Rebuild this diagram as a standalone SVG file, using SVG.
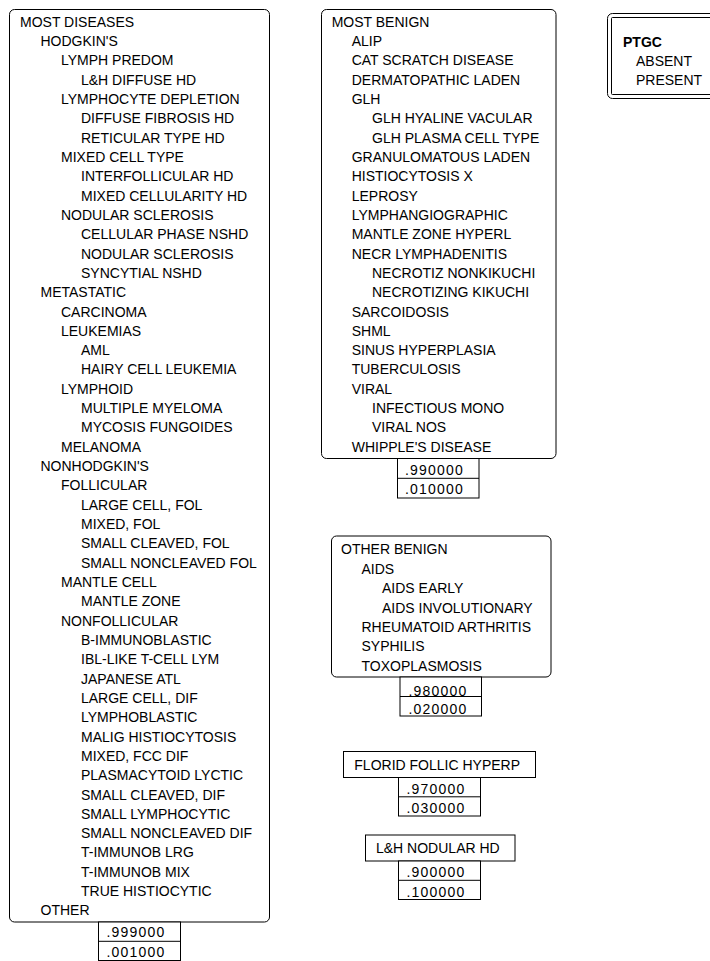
<svg xmlns="http://www.w3.org/2000/svg" width="710" height="961" viewBox="0 0 710 961">
<style>
text{font-family:"Liberation Sans",Arial,sans-serif;font-size:14px;fill:#000}
.v{letter-spacing:1.2px}
.b{font-weight:bold}
.box{fill:#fff;stroke:#000;stroke-width:1}
.ln{stroke:#000;stroke-width:1;fill:none}
</style>
<rect width="710" height="961" fill="#fff"/>
<g id="connectors"/>
<g id="node-most-diseases">
<rect class="box" x="9.5" y="9.5" width="260" height="912.5" rx="5"/>
<text x="20" y="26.7">MOST DISEASES</text>
<text x="40.5" y="46.02">HODGKIN'S</text>
<text x="61" y="65.34">LYMPH PREDOM</text>
<text x="81" y="84.66">L&amp;H DIFFUSE HD</text>
<text x="61" y="103.98">LYMPHOCYTE DEPLETION</text>
<text x="81" y="123.3">DIFFUSE FIBROSIS HD</text>
<text x="81" y="142.62">RETICULAR TYPE HD</text>
<text x="61" y="161.94">MIXED CELL TYPE</text>
<text x="81" y="181.26">INTERFOLLICULAR HD</text>
<text x="81" y="200.58">MIXED CELLULARITY HD</text>
<text x="61" y="219.9">NODULAR SCLEROSIS</text>
<text x="81" y="239.22">CELLULAR PHASE NSHD</text>
<text x="81" y="258.54">NODULAR SCLEROSIS</text>
<text x="81" y="277.86">SYNCYTIAL NSHD</text>
<text x="40.5" y="297.18">METASTATIC</text>
<text x="61" y="316.5">CARCINOMA</text>
<text x="61" y="335.82">LEUKEMIAS</text>
<text x="81" y="355.14">AML</text>
<text x="81" y="374.46">HAIRY CELL LEUKEMIA</text>
<text x="61" y="393.78">LYMPHOID</text>
<text x="81" y="413.1">MULTIPLE MYELOMA</text>
<text x="81" y="432.42">MYCOSIS FUNGOIDES</text>
<text x="61" y="451.74">MELANOMA</text>
<text x="40.5" y="471.06">NONHODGKIN'S</text>
<text x="61" y="490.38">FOLLICULAR</text>
<text x="81" y="509.7">LARGE CELL, FOL</text>
<text x="81" y="529.02">MIXED, FOL</text>
<text x="81" y="548.34">SMALL CLEAVED, FOL</text>
<text x="81" y="567.66">SMALL NONCLEAVED FOL</text>
<text x="61" y="586.98">MANTLE CELL</text>
<text x="81" y="606.3">MANTLE ZONE</text>
<text x="61" y="625.62">NONFOLLICULAR</text>
<text x="81" y="644.94">B-IMMUNOBLASTIC</text>
<text x="81" y="664.26">IBL-LIKE T-CELL LYM</text>
<text x="81" y="683.58">JAPANESE ATL</text>
<text x="81" y="702.9">LARGE CELL, DIF</text>
<text x="81" y="722.22">LYMPHOBLASTIC</text>
<text x="81" y="741.54">MALIG HISTIOCYTOSIS</text>
<text x="81" y="760.86">MIXED, FCC DIF</text>
<text x="81" y="780.18">PLASMACYTOID LYCTIC</text>
<text x="81" y="799.5">SMALL CLEAVED, DIF</text>
<text x="81" y="818.82">SMALL LYMPHOCYTIC</text>
<text x="81" y="838.14">SMALL NONCLEAVED DIF</text>
<text x="81" y="857.46">T-IMMUNOB LRG</text>
<text x="81" y="876.78">T-IMMUNOB MIX</text>
<text x="81" y="896.1">TRUE HISTIOCYTIC</text>
<text x="40.5" y="915.42">OTHER</text>
<rect class="box" x="98.5" y="922" width="82" height="38.5"/>
<line class="ln" x1="98.5" y1="941.3" x2="180.5" y2="941.3"/>
<text class="v" x="106.5" y="937.3">.999000</text>
<text class="v" x="106.5" y="956.5">.001000</text>
</g>
<g id="node-most-benign">
<rect class="box" x="321.5" y="9.5" width="234.5" height="449" rx="5"/>
<text x="331.7" y="26.7">MOST BENIGN</text>
<text x="351.7" y="46.02">ALIP</text>
<text x="351.7" y="65.34">CAT SCRATCH DISEASE</text>
<text x="351.7" y="84.66">DERMATOPATHIC LADEN</text>
<text x="351.7" y="103.98">GLH</text>
<text x="372" y="123.3">GLH HYALINE VACULAR</text>
<text x="372" y="142.62">GLH PLASMA CELL TYPE</text>
<text x="351.7" y="161.94">GRANULOMATOUS LADEN</text>
<text x="351.7" y="181.26">HISTIOCYTOSIS X</text>
<text x="351.7" y="200.58">LEPROSY</text>
<text x="351.7" y="219.9">LYMPHANGIOGRAPHIC</text>
<text x="351.7" y="239.22">MANTLE ZONE HYPERL</text>
<text x="351.7" y="258.54">NECR LYMPHADENITIS</text>
<text x="372" y="277.86">NECROTIZ NONKIKUCHI</text>
<text x="372" y="297.18">NECROTIZING KIKUCHI</text>
<text x="351.7" y="316.5">SARCOIDOSIS</text>
<text x="351.7" y="335.82">SHML</text>
<text x="351.7" y="355.14">SINUS HYPERPLASIA</text>
<text x="351.7" y="374.46">TUBERCULOSIS</text>
<text x="351.7" y="393.78">VIRAL</text>
<text x="372" y="413.1">INFECTIOUS MONO</text>
<text x="372" y="432.42">VIRAL NOS</text>
<text x="351.7" y="451.74">WHIPPLE'S DISEASE</text>
<rect class="box" x="397.5" y="458.5" width="81.5" height="39.5"/>
<line class="ln" x1="397.5" y1="478.3" x2="479" y2="478.3"/>
<text class="v" x="405" y="474.5">.990000</text>
<text class="v" x="405" y="493.8">.010000</text>
</g>
<g id="node-other-benign">
<rect class="box" x="331.5" y="536" width="219.5" height="141" rx="5"/>
<text x="341" y="554.3">OTHER BENIGN</text>
<text x="361.5" y="573.7">AIDS</text>
<text x="382" y="593.1">AIDS EARLY</text>
<text x="382" y="612.5">AIDS INVOLUTIONARY</text>
<text x="361.5" y="631.9">RHEUMATOID ARTHRITIS</text>
<text x="361.5" y="651.3">SYPHILIS</text>
<text x="361.5" y="670.7">TOXOPLASMOSIS</text>
<rect class="box" x="400" y="677" width="81.5" height="39"/>
<line class="ln" x1="400" y1="696.5" x2="481.5" y2="696.5"/>
<text class="v" x="408.5" y="695.5">.980000</text>
<text class="v" x="408.5" y="714.3">.020000</text>
</g>
<g id="node-florid">
<rect class="box" x="343.5" y="751.5" width="192" height="26"/>
<text x="354.3" y="770">FLORID FOLLIC HYPERP</text>
<rect class="box" x="398.5" y="777.5" width="82" height="38.5"/>
<line class="ln" x1="398.5" y1="796.8" x2="480.5" y2="796.8"/>
<text class="v" x="406.5" y="794.3">.970000</text>
<text class="v" x="406.5" y="813.3">.030000</text>
</g>
<g id="node-lh-nodular">
<rect class="box" x="365.5" y="835" width="149.5" height="26"/>
<text x="376" y="853.3">L&amp;H NODULAR HD</text>
<rect class="box" x="398.5" y="861" width="82" height="38.5"/>
<line class="ln" x1="398.5" y1="880.3" x2="480.5" y2="880.3"/>
<text class="v" x="406.5" y="877.3">.900000</text>
<text class="v" x="406.5" y="896.7">.100000</text>
</g>
<g id="node-ptgc">
<rect class="box" x="607.5" y="13.5" width="130" height="85" rx="5"/>
<rect class="box" x="611.5" y="17.5" width="122" height="77" rx="1"/>
<text class="b" x="623" y="47.3">PTGC</text>
<text x="636" y="66">ABSENT</text>
<text x="636" y="85">PRESENT</text>
</g>
</svg>
